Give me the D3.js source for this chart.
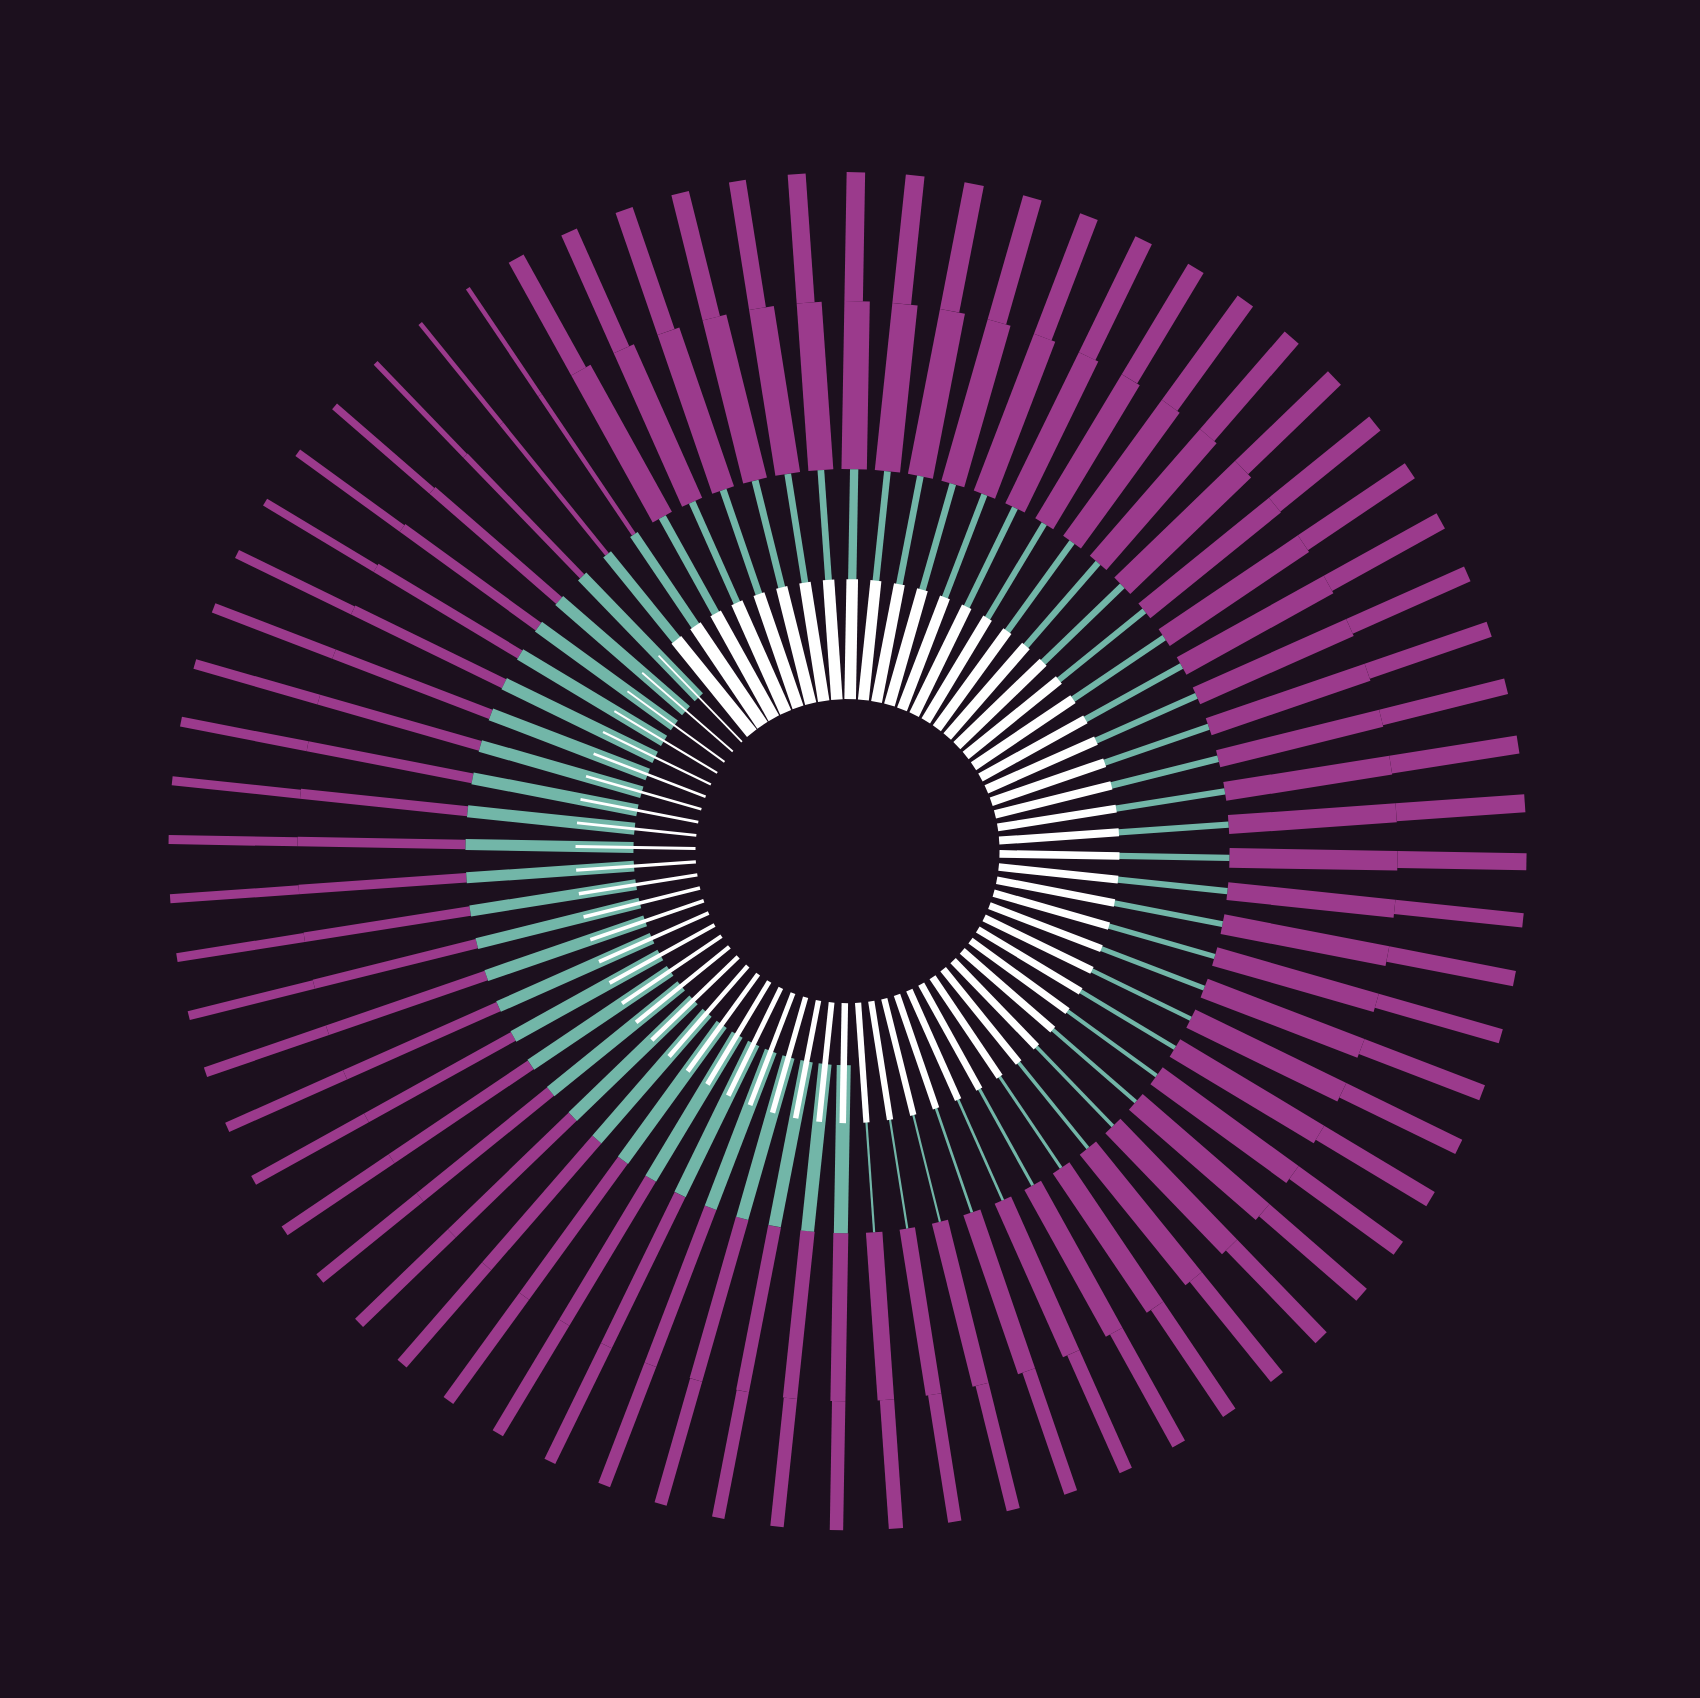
<!DOCTYPE html>
<html lang="en">
<head>
<meta charset="UTF-8">
<title>Radial bars</title>
<script src="https://d3js.org/d3.v7.min.js"></script>
<style>
  html, body { margin: 0; padding: 0; background: #1c101e; }
  svg { display: block; }
</style>
</head>
<body>
<div id="chart"></div>
<script>
// one entry per spoke, clockwise from the top (72 spokes)
const spokes = d3.range(72);

// bar thickness per spoke, one array per band
const whiteW = [
  11.6, 11, 11, 11, 10.5, 10.5, 10, 10, 10, 10, 9.5, 9.5, 9, 9, 9, 8.5, 8, 8,
  7.6, 7.6, 7.6, 7.5, 7.2, 7.5, 7.2, 7.2, 7.5, 7.5, 7.2, 7.2, 6.8, 6.8, 6.7, 6.3, 6.3, 6.2,
  6.5, 5.8, 5.5, 5.4, 5, 5, 5, 4.8, 4.5, 4.5, 4.3, 4, 4, 3.8, 3.6, 3.5, 3.3, 3.2,
  3, 2.8, 2.7, 2.7, 2.6, 2.3, 2.2, 1.9, 1.8, 1.8, 12.5, 12.5, 12, 12, 11.5, 11.5, 11.5, 11.5
];
const tealW = [
  8.3, 6.7, 6.7, 6.7, 6.3, 6.3, 6, 6.3, 6.3, 6.7, 6, 6.3, 6.3, 6.3, 6.3, 6.7, 6.3, 6.3,
  6.3, 6.3, 5.8, 5.4, 5, 4.5, 4.5, 4, 4, 3.6, 3.6, 3.1, 3.1, 2.7, 2.7, 2.2, 2.2, 2.2,
  14, 13, 12.5, 12.5, 12.5, 12.5, 12.5, 12.5, 12, 12, 12, 12, 12, 11.5, 11.5, 11, 11, 11,
  11, 12, 12, 12, 12.5, 12.5, 12, 12, 12, 11.5, 10, 9, 8, 7, 7, 7, 6.7, 6.7
];
const magentaInnerW = [
  25.4, 25.4, 25.4, 23.8, 22.8, 21.6, 21, 22, 22, 23, 19, 20, 20, 18.4, 18, 17.5, 19, 19,
  19.6, 18, 20, 19, 20, 20.5, 20.5, 21, 21, 21, 21, 20, 19, 18, 18, 16.5, 15.6, 16.5,
  15, 14.3, 13, 13, 12.5, 12, 12, 12, 12, 11.5, 11, 10.7, 10, 10, 10, 9.5, 9.5, 9.5,
  9.5, 10, 10, 10, 10, 10, 9.5, 9.5, 9, 6, 4.5, 4.5, 22, 22, 23, 24.5, 25, 25
];
const magentaOuterW = [
  18.5, 18.8, 19.6, 19.2, 18.8, 18.3, 18, 19, 18.7, 18.7, 18, 18, 17.4, 16, 16, 16, 18, 18,
  17, 14.3, 15.6, 14.7, 16, 16, 16.5, 16, 16, 15.6, 15.6, 15, 14.3, 13.4, 13.4, 13.4, 13.4, 14.3,
  13.4, 13.4, 12.5, 12.5, 12.5, 12, 12, 12, 12, 11.5, 11, 10.7, 10, 10, 10, 9, 9, 9,
  9, 9, 10, 10, 10, 9, 8, 8, 7.5, 5.4, 4.5, 4.5, 17, 17, 18, 18, 17, 18
];

const width = 1700, height = 1698;
const cx = 847.5, cy = 851.2;

// radial stops of the bands: inner hole, white end, teal start, teal end, magenta step, outer
const rInner = 152, rWhite = 272, rTealStart = 214, rTeal = 382, rStep = 550, rOuter = 679;

const angle = d3.scaleLinear().domain([0, spokes.length]).range([1, 361]);
const thick = d3.scaleLinear().domain([0, 30]).range([0, 30]);

const colors = { white: "#ffffff", teal: "#72b6a8", magenta: "#9b3a8c" };

const svg = d3.select("#chart").append("svg")
  .attr("width", width)
  .attr("height", height);

svg.append("rect")
  .attr("width", width)
  .attr("height", height)
  .attr("fill", "#1c101e");

const root = svg.append("g").attr("transform", `translate(${cx},${cy})`);

// each layer drawn in its own group so white sits on teal, teal on magenta
function layer(cls, color, r0, r1, xOf, wOf) {
  root.append("g").attr("class", cls)
    .selectAll("rect")
    .data(spokes)
    .join("rect")
    .attr("transform", d => `rotate(${angle(d)})`)
    .attr("x", xOf)
    .attr("y", -r1)
    .attr("width", wOf)
    .attr("height", r1 - r0)
    .attr("fill", color);
}

// outer magenta shares the counter-clockwise edge of the inner magenta
layer("mag-outer", colors.magenta, rStep, rOuter,
  d => -thick(magentaInnerW[d]) / 2, d => thick(magentaOuterW[d]));
layer("mag-inner", colors.magenta, rTeal, rStep,
  d => -thick(magentaInnerW[d]) / 2, d => thick(magentaInnerW[d]));
layer("teal", colors.teal, rTealStart, rTeal,
  d => -thick(tealW[d]) / 2, d => thick(tealW[d]));
layer("white", colors.white, rInner, rWhite,
  d => -thick(whiteW[d]) / 2, d => thick(whiteW[d]));
</script>
</body>
</html>
